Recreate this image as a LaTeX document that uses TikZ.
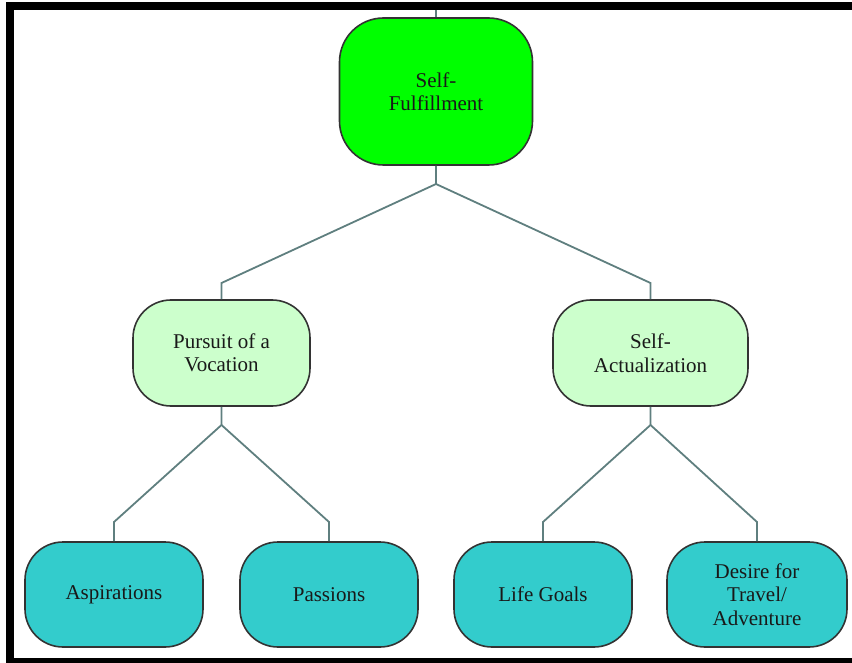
\documentclass[tikz,border=0pt]{standalone}
\usepackage{fontspec}
\setmainfont{Liberation Serif}
\begin{document}
\begin{tikzpicture}[x=1pt,y=-1pt,
  box/.style={draw=black!80, line width=1.6pt, align=center, inner sep=0pt,
    font=\fontsize{21}{23.5}\selectfont, text=black!90},
  topbox/.style={box, fill=topgreen, rounded corners=44pt, minimum width=193pt, minimum height=147pt},
  midbox/.style={box, fill=midgreen, rounded corners=38pt, minimum width=177pt, minimum height=106pt},
  leafbox/.style={box, fill=leafteal, rounded corners=38pt, minimum width=178pt, minimum height=105pt},
  link/.style={draw=linkgrey, line width=1.8pt}
]
\definecolor{topgreen}{HTML}{00FF00}
\definecolor{midgreen}{HTML}{CCFFCC}
\definecolor{leafteal}{HTML}{33CCCC}
\definecolor{linkgrey}{HTML}{5F7F7F}
\useasboundingbox (0,0) rectangle (852,663);
% frame
\fill[black] (6,2) rectangle (852,10);
\fill[black] (6,2) rectangle (14,663);
\fill[black] (6,658) rectangle (852,663);

% nodes
\node[topbox] (sf) at (436,91.5) {Self-\\Fulfillment};
\node[midbox] (pv) at (221.5,353) {Pursuit of a\\Vocation};
\node[midbox, minimum width=195pt] (sa) at (650.5,353) {Self-\\Actualization};
\node[leafbox] (asp) at (114,594.5) {Aspirations};
\node[leafbox] (pas) at (329,594.5) {Passions};
\node[leafbox] (lg) at (543,594.5) {Life Goals};
\node[leafbox, minimum width=180pt] (dt) at (757,594.5) {Desire for\\Travel/\\Adventure};

% connectors
\coordinate (topin) at (436,10);
\coordinate (j0) at (436,184);
\coordinate (k1) at (221.5,283);
\coordinate (k2) at (650.5,283);
\coordinate (j1) at (221.5,425);
\coordinate (j2) at (650.5,425);
\coordinate (a1) at (114,522);
\coordinate (a2) at (329,522);
\coordinate (a3) at (543,522);
\coordinate (a4) at (757,522);

\draw[link] (topin) -- (sf.north);
\draw[link] (sf.south) -- (j0) -- (k1) -- (pv.north);
\draw[link] (j0) -- (k2) -- (sa.north);
\draw[link] (pv.south) -- (j1) -- (a1) -- (asp.north);
\draw[link] (j1) -- (a2) -- (pas.north);
\draw[link] (sa.south) -- (j2) -- (a3) -- (lg.north);
\draw[link] (j2) -- (a4) -- (dt.north);
\end{tikzpicture}
\end{document}
